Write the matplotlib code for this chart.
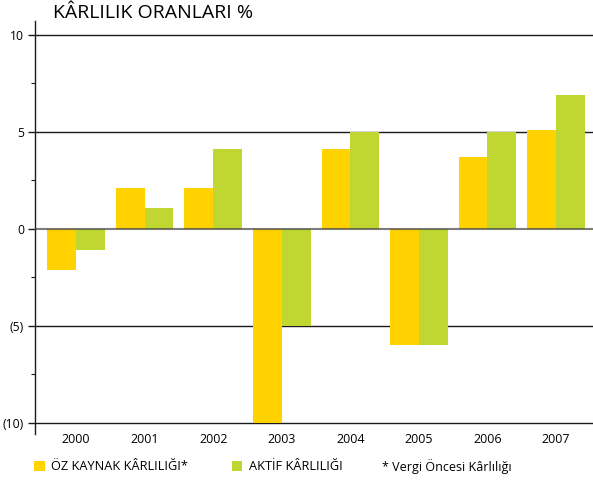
import matplotlib.pyplot as plt
import numpy as np
from matplotlib.patches import Patch
from matplotlib.ticker import FixedLocator

years = ['2000', '2001', '2002', '2003', '2004', '2005', '2006', '2007']
ozKaynak = [-2.1, 2.1, 2.1, -10.0, 4.1, -6.0, 3.7, 5.1]
aktif = [-1.1, 1.1, 4.1, -5.0, 5.0, -6.0, 5.0, 6.9]
yTicks = [10, 5, 0, -5, -10]
yTickLabels = ['10', '5', '0', '(5)', '(10)']
minorTicks = [7.5, 2.5, -2.5, -7.5]

YELLOW = '#FFD200'
GREEN = '#BFD730'

plt.rcParams['font.family'] = ['Open Sans', 'DejaVu Sans']

fig = plt.figure(figsize=(5.93, 4.88), dpi=100)
ax = fig.add_axes([35 / 593, 1 - 434 / 488, 1 - 35 / 593, (434 - 21) / 488])

x = np.arange(len(years))
barWidth = 0.42
ax.bar(x - barWidth / 2, ozKaynak, barWidth, color=YELLOW, zorder=2)
ax.bar(x + barWidth / 2, aktif, barWidth, color=GREEN, zorder=2)

# horizontal reference lines
for v in yTicks:
    if v == 0:
        ax.axhline(0, color='#444444', alpha=0.7, linewidth=1.5, zorder=3)
    else:
        ax.axhline(v, color='#1a1a1a', linewidth=1.0, zorder=1)

ax.set_xlim(-0.6, 7.54)
ax.set_ylim(-10.57, 10.72)

ax.set_xticks(x)
ax.set_xticklabels(years, fontsize=9)
ax.tick_params(axis='x', length=0, pad=-1)

ax.set_yticks(yTicks)
ax.set_yticklabels(yTickLabels, fontsize=8.7)
ax.yaxis.set_minor_locator(FixedLocator(minorTicks))
ax.tick_params(axis='y', which='major', length=5, width=1, pad=3, color='#1a1a1a')
ax.tick_params(axis='y', which='minor', length=3, width=0.8, color='#1a1a1a')

for side in ['top', 'right', 'bottom']:
    ax.spines[side].set_visible(False)
ax.spines['left'].set_linewidth(1.0)
ax.spines['left'].set_color('#1a1a1a')

fig.text(53 / 593, 1 - 13 / 488, 'KÂRLILIK ORANLARI %', fontsize=14,
         ha='left', va='center')

handles = [Patch(facecolor=YELLOW), Patch(facecolor=GREEN)]
fig.legend(handles, ['ÖZ KAYNAK KÂRLILIĞI*', 'AKTİF KÂRLILIĞI'],
           loc='center left', bbox_to_anchor=(34 / 593, 1 - 467 / 488),
           ncol=2, frameon=False, fontsize=9.2, handlelength=0.85,
           handleheight=0.85, handletextpad=0.5, columnspacing=3.4,
           borderaxespad=0, borderpad=0)
fig.text(382 / 593, 1 - 467 / 488, '* Vergi Öncesi Kârlılığı', fontsize=9,
         ha='left', va='center')

fig.savefig('out.png', dpi=100)
